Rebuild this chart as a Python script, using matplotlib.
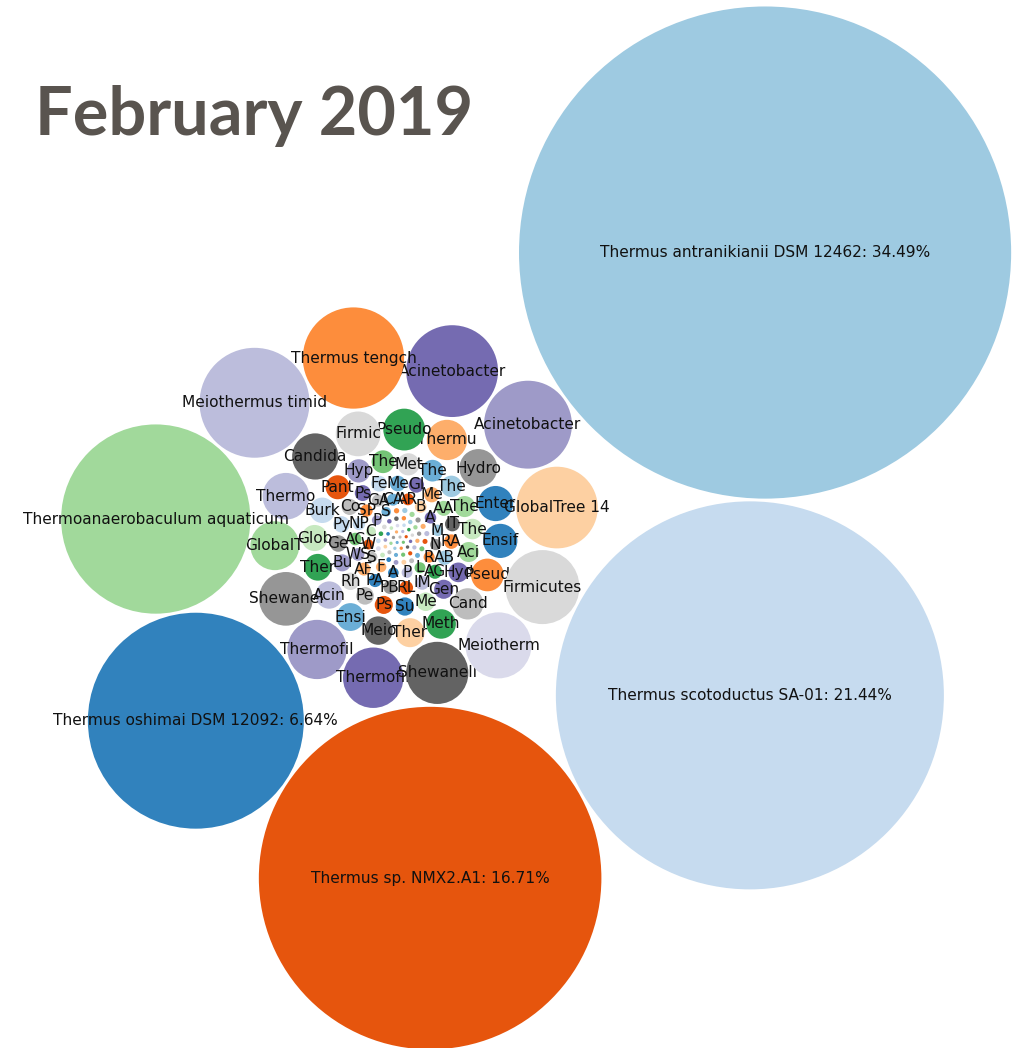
import math
import numpy as np
import matplotlib.pyplot as plt
from matplotlib.patches import Circle

# d3 category20c
palette = ["#3182bd", "#6baed6", "#9ecae1", "#c6dbef", "#e6550d", "#fd8d3c", "#fdae6b", "#fdd0a2",
           "#31a354", "#74c476", "#a1d99b", "#c7e9c0", "#756bb1", "#9e9ac8", "#bcbddc", "#dadaeb",
           "#636363", "#969696", "#bdbdbd", "#d9d9d9"]

# labelled bubbles, largest first (labels as they show, already cut to the bubble size)
labels = [
    "Thermus antranikianii DSM 12462: 34.49%", "Thermus scotoductus SA-01: 21.44%",
    "Thermus sp. NMX2.A1: 16.71%", "Thermus oshimai DSM 12092: 6.64%", "Thermoanaerobaculum aquaticum",
    "Meiothermus timid", "Thermus tengch", "Acinetobacter", "Acinetobacter", "GlobalTree 14",
    "Firmicutes", "Meiotherm", "Shewanell", "Thermofil", "Thermofil", "Shewanel", "GlobalT",
    "Thermo", "Candida", "Firmic", "Pseudo", "Thermu", "Hydro", "Enter", "Ensif", "Pseud", "Cand",
    "Meth", "Ther", "Meio", "Ensi", "Acin", "Ther", "Glob", "Burk",
    "Pant", "Hyp", "The", "Met", "The", "The", "The", "The", "Aci", "Hyd", "Gen", "Me", "Su", "Ps",
    "Pe", "Rh", "Bu", "Ge", "Py", "Co", "Ps", "Fe", "Me",
    "GI", "Me", "AA", "IT", "RA", "AB", "AG", "IM", "RL", "PB", "PA", "AF", "WS", "AC", "NP",
    "SP", "GA", "CA", "AR",
    "B", "A", "M", "N", "R", "L", "P", "A", "F", "S", "W", "C", "P", "S",
]
values = [
    34.49, 21.44, 16.71, 6.64, 5.10,
    1.72, 1.46, 1.20, 1.10, 0.95, 0.78, 0.62, 0.55, 0.52, 0.50, 0.41, 0.34,
    0.309, 0.304, 0.285, 0.249, 0.231, 0.204, 0.176, 0.166, 0.152, 0.139, 0.124, 0.120, 0.115,
    0.110, 0.106, 0.102, 0.097, 0.092,
    0.082, 0.077, 0.074, 0.070, 0.067, 0.065, 0.063, 0.060, 0.057, 0.055, 0.052, 0.049, 0.0475,
    0.0465, 0.0445, 0.043, 0.041, 0.039, 0.038, 0.037, 0.036, 0.0355, 0.035,
    0.034, 0.033, 0.032, 0.031, 0.030, 0.029, 0.028, 0.027, 0.026, 0.025, 0.0245, 0.024, 0.023,
    0.0225, 0.022, 0.0215, 0.021, 0.0205, 0.020,
    0.0195, 0.019, 0.0185, 0.018, 0.0175, 0.017, 0.0165, 0.016, 0.0155, 0.015, 0.0145, 0.014,
    0.0135, 0.013,
]
color_ids = [
    2, 3, 4, 0, 10,
    14, 5, 12, 13, 7, 19, 15, 16, 12, 13, 17, 10,
    14, 16, 19, 8, 6, 17, 0, 0, 5, 18, 8, 7, 16, 1, 14, 8, 11, 3,
    4, 13, 9, 19, 1, 2, 10, 11, 10, 12, 12, 11, 0, 4, 18, 19, 13, 17, 3, 18, 12, 3, 1,
    12, 6, 10, 16, 5, 2, 8, 14, 4, 17, 0, 6, 13, 9, 3, 5, 18, 1, 4,
    7, 12, 2, 17, 5, 9, 14, 0, 6, 18, 4, 11, 13, 1,
]

# small unlabelled dots in the middle, largest first
dot_values = [
    0.0040, 0.0039, 0.0039, 0.0038, 0.0037, 0.0037, 0.0036, 0.0035, 0.0035, 0.0034,
    0.0034, 0.0033, 0.0032, 0.0032, 0.0031, 0.0031, 0.0030, 0.0030, 0.0029, 0.0029,
    0.0028, 0.0028, 0.0027, 0.0027, 0.0026, 0.0026, 0.0025, 0.0025, 0.0024, 0.0024,
    0.0020, 0.0019, 0.0019, 0.0019, 0.0018, 0.0018, 0.0018, 0.0017, 0.0017, 0.0017,
    0.0016, 0.0016, 0.0016, 0.0016, 0.0015, 0.0015, 0.0015, 0.0015, 0.0014, 0.0014,
]
dot_cycle = [5, 2, 10, 17, 6, 14, 4, 9, 1, 18, 7, 13, 0, 11, 15, 3, 8, 19, 12, 16]

# layout settings
px_per_sqrt = 41.9        # radius in px = px_per_sqrt * sqrt(value)
padding = 1.5
origin = (401, 537)       # where the spiral starts
big_angle = -38.0         # direction of the largest bubble seen from the origin (deg, y down)

all_vals = values + dot_values
all_labels = labels + [""] * len(dot_values)
all_cols = [palette[c] for c in color_ids] + \
    [palette[dot_cycle[i % len(dot_cycle)]] for i in range(len(dot_values))]

# d3 v3 pack sorts ascending
vals = all_vals[::-1]
labs = all_labels[::-1]
cols = all_cols[::-1]
rad = [px_per_sqrt * math.sqrt(v) for v in vals]
n = len(rad)
r = [q + padding for q in rad]
x = [0.0] * n
y = [0.0] * n
nxt = list(range(n))
prv = list(range(n))


def place(a, b, c):
    db = r[a] + r[c]
    dx = x[b] - x[a]
    dy = y[b] - y[a]
    if db and (dx or dy):
        da = (r[b] + r[c]) ** 2
        dc = dx * dx + dy * dy
        db = db * db
        xx = 0.5 + (db - da) / (2 * dc)
        yy = math.sqrt(max(0.0, 2 * da * (db + dc) - (db - dc) ** 2 - da * da)) / (2 * dc)
        x[c] = x[a] + xx * dx + yy * dy
        y[c] = y[a] + xx * dy - yy * dx
    else:
        x[c] = x[a] + db
        y[c] = y[a]


def hits(a, b):
    dx = x[b] - x[a]
    dy = y[b] - y[a]
    dr = r[a] + r[b]
    return 0.999 * dr * dr > dx * dx + dy * dy


def insert(a, b):
    c = nxt[a]
    nxt[a] = b
    prv[b] = a
    nxt[b] = c
    prv[c] = b


def splice(a, b):
    nxt[a] = b
    prv[b] = a


a = 0
x[0] = -r[0]
b = 1
x[1] = r[1]
place(a, b, 2)
insert(a, 2)
prv[a] = 2
insert(2, b)
b = nxt[a]
i = 3
while i < n:
    c = i
    place(a, b, c)
    isect = False
    s1 = 1
    s2 = 1
    j = nxt[b]
    while j != b:
        if hits(j, c):
            isect = True
            break
        j = nxt[j]
        s1 += 1
    if isect:
        k = prv[a]
        while k != prv[j]:
            if hits(k, c):
                break
            k = prv[k]
            s2 += 1
        if s1 < s2 or (s1 == s2 and r[b] < r[a]):
            b = j
            splice(a, b)
        else:
            a = k
            splice(a, b)
    else:
        insert(a, c)
        b = c
        i += 1

x = np.array(x)
y = np.array(y)
cx0, cy0 = x[:6].mean(), y[:6].mean()
x -= cx0
y -= cy0

# descending order must turn clockwise on screen (y down)
ang = np.unwrap(np.arctan2(y[-12:], x[-12:]))
if ang[-2] - ang[-1] < 0:
    y = -y
rot = math.radians(big_angle) - math.atan2(y[-1], x[-1])
xs = origin[0] + x * math.cos(rot) - y * math.sin(rot)
ys = origin[1] + x * math.sin(rot) + y * math.cos(rot)

fig = plt.figure(figsize=(10.17, 10.48), dpi=100)
ax = fig.add_axes([0, 0, 1, 1])
ax.set_xlim(0, 1017)
ax.set_ylim(1048, 0)
ax.set_aspect("equal")
ax.axis("off")

for k in range(n):
    ax.add_patch(Circle((xs[k], ys[k]), rad[k], facecolor=cols[k], edgecolor="none", zorder=2 + 2 * k))
    if labs[k]:
        ax.text(xs[k], ys[k], labs[k], ha="center", va="center", fontsize=11.1,
                family="DejaVu Sans", color="#111111", zorder=3 + 2 * k)

ax.text(35, 135, "February 2019", fontsize=48, fontweight="bold", family="Lato",
        color="#59544f", ha="left", va="baseline", zorder=1000)

fig.savefig("out.png", dpi=100)
